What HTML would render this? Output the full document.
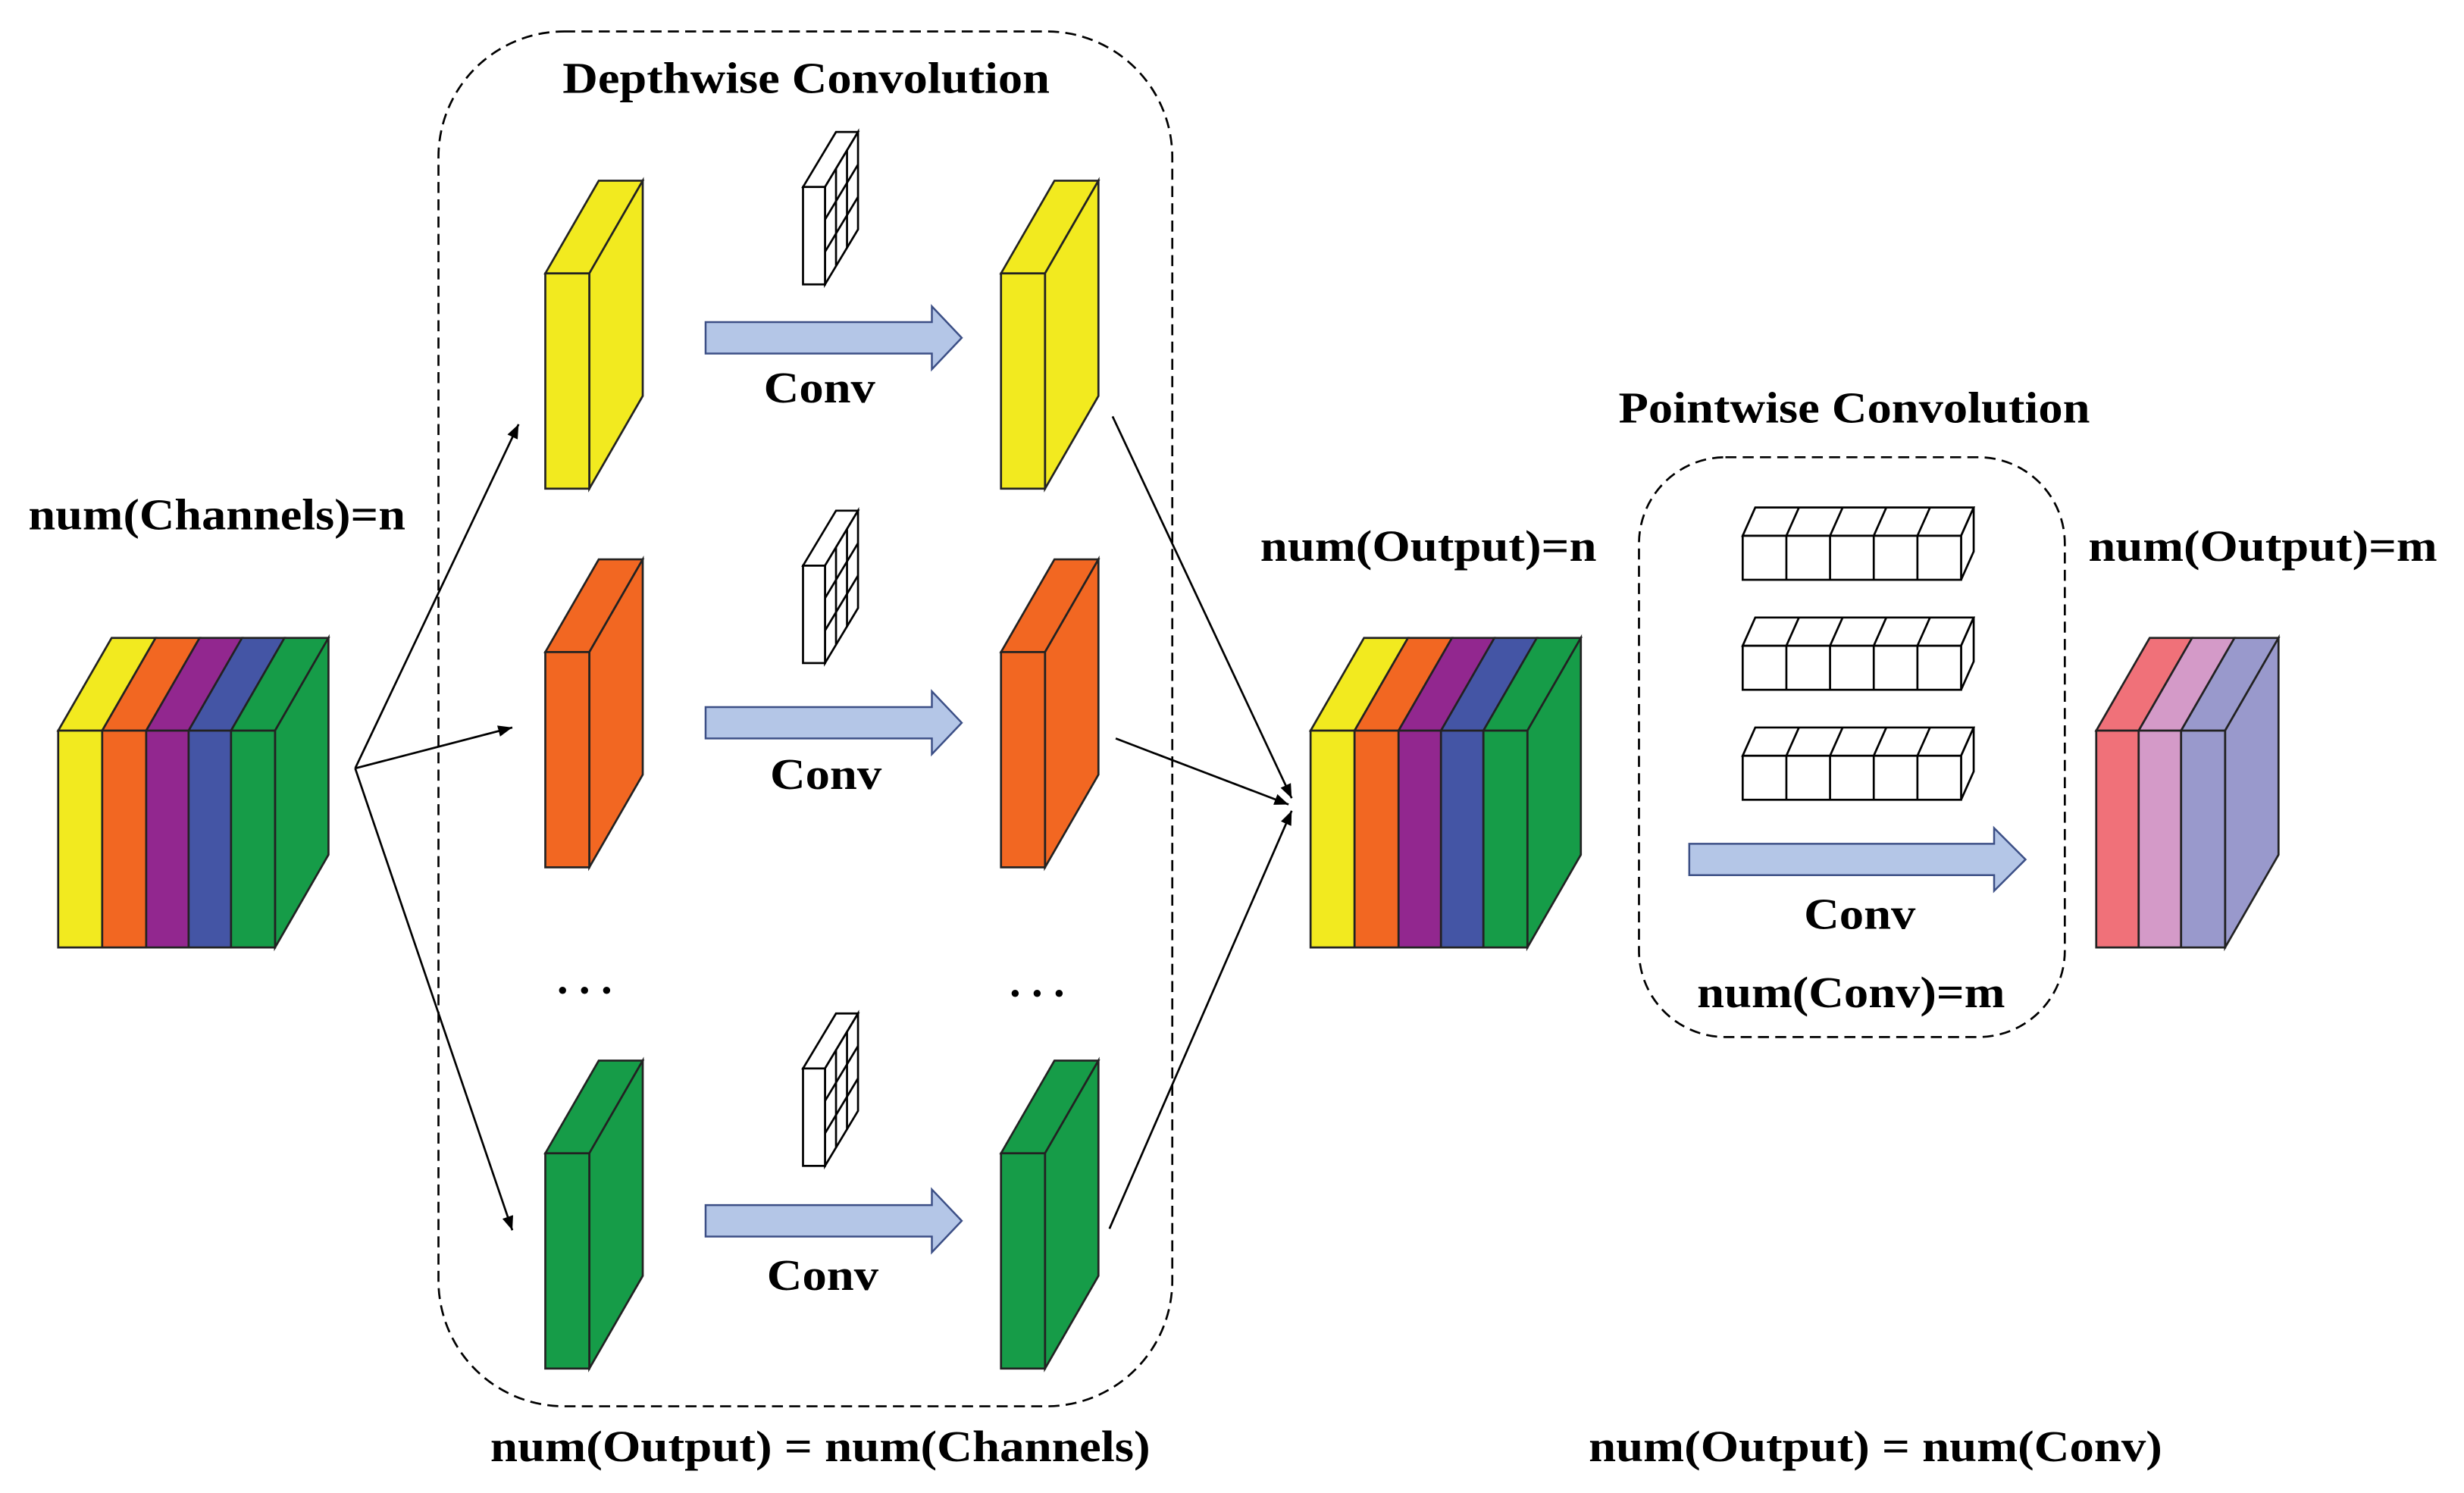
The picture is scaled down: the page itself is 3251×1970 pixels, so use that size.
<!DOCTYPE html>
<html><head><meta charset="utf-8"><style>
html,body{margin:0;padding:0;background:#fff;}
svg{display:block;}
text{font-family:"Liberation Serif",serif;font-weight:bold;fill:#000;}
</style></head><body>
<svg width="3251" height="1970" viewBox="0 0 1568 950.2" xmlns="http://www.w3.org/2000/svg">
<defs>
<marker id="ah" viewBox="0 0 10 10" refX="10" refY="5" markerWidth="9" markerHeight="9" markerUnits="userSpaceOnUse" orient="auto">
<path d="M0,1 L10,5 L0,9 z" fill="#000"/></marker>
<g id="kern" stroke="#000" stroke-width="1.3" fill="#fff">
<polygon points="0,35 14,35 35,0 21,0"/>
<polygon points="14,35 35,0 35,62 14,97"/>
<rect x="0" y="35" width="14" height="62"/>
<line x1="21" y1="23" x2="21" y2="85"/><line x1="28" y1="12" x2="28" y2="74"/>
<line x1="14" y1="55.7" x2="35" y2="20.7"/><line x1="14" y1="76.3" x2="35" y2="41.3"/>
</g>
<g id="bar" stroke="#3c4f86" stroke-width="1.2" fill="#b4c6e7">
<polygon points="0,-10 144,-10 144,-20 163,0 144,20 144,10 0,10"/>
</g>
<g id="pk" stroke="#000" stroke-width="1.3" fill="#fff">
<polygon points="0,18 8,0 147,0 139,18"/>
<polygon points="139,18 147,0 147,28 139,46"/>
<rect x="0" y="18" width="139" height="28"/>
<line x1="27.8" y1="18" x2="27.8" y2="46"/><line x1="55.6" y1="18" x2="55.6" y2="46"/><line x1="83.4" y1="18" x2="83.4" y2="46"/><line x1="111.2" y1="18" x2="111.2" y2="46"/>
<line x1="27.8" y1="18" x2="35.8" y2="0"/><line x1="55.6" y1="18" x2="63.6" y2="0"/><line x1="83.4" y1="18" x2="91.4" y2="0"/><line x1="111.2" y1="18" x2="119.2" y2="0"/>
</g>
</defs>

<rect x="279" y="20" width="467" height="875" rx="80" fill="none" stroke="#000" stroke-width="1.3" stroke-dasharray="7,4"/>
<rect x="1043" y="291" width="271" height="369" rx="55" fill="none" stroke="#000" stroke-width="1.3" stroke-dasharray="7,4"/>

<text x="358" y="59" font-size="28" textLength="310" lengthAdjust="spacingAndGlyphs">Depthwise Convolution</text>
<text x="1030" y="269" font-size="28" textLength="300" lengthAdjust="spacingAndGlyphs">Pointwise Convolution</text>

<g stroke="#222" stroke-width="1.3">
<g fill="#f2ea1f">
<polygon points="347,174 381,115 409,115 375,174"/><polygon points="375,174 409,115 409,252 375,311"/><rect x="347" y="174" width="28" height="137"/>
<polygon points="637,174 671,115 699,115 665,174"/><polygon points="665,174 699,115 699,252 665,311"/><rect x="637" y="174" width="28" height="137"/>
</g>
<g fill="#f26722">
<polygon points="347,415 381,356 409,356 375,415"/><polygon points="375,415 409,356 409,493 375,552"/><rect x="347" y="415" width="28" height="137"/>
<polygon points="637,415 671,356 699,356 665,415"/><polygon points="665,415 699,356 699,493 665,552"/><rect x="637" y="415" width="28" height="137"/>
</g>
<g fill="#169c48">
<polygon points="347,734 381,675 409,675 375,734"/><polygon points="375,734 409,675 409,812 375,871"/><rect x="347" y="734" width="28" height="137"/>
<polygon points="637,734 671,675 699,675 665,734"/><polygon points="665,734 699,675 699,812 665,871"/><rect x="637" y="734" width="28" height="137"/>
</g>
</g>

<use href="#kern" x="511" y="84"/>
<use href="#kern" x="511" y="325"/>
<use href="#kern" x="511" y="645"/>

<use href="#bar" x="449" y="215"/>
<use href="#bar" x="449" y="460"/>
<use href="#bar" x="449" y="777"/>
<text x="486" y="256" font-size="28" textLength="71" lengthAdjust="spacingAndGlyphs">Conv</text>
<text x="490" y="502" font-size="28" textLength="71" lengthAdjust="spacingAndGlyphs">Conv</text>
<text x="488" y="821" font-size="28" textLength="71" lengthAdjust="spacingAndGlyphs">Conv</text>
<text x="372" y="632" font-size="28" text-anchor="middle">. . .</text>
<text x="660" y="634" font-size="28" text-anchor="middle">. . .</text>

<g stroke="#222" stroke-width="1.3">
<polygon points="37,465 71,406 99,406 65,465" fill="#f2ea1f"/>
<polygon points="65,465 99,406 127,406 93,465" fill="#f26722"/>
<polygon points="93,465 127,406 154,406 120,465" fill="#92278f"/>
<polygon points="120,465 154,406 181,406 147,465" fill="#4455a5"/>
<polygon points="147,465 181,406 209,406 175,465" fill="#169c48"/>
<polygon points="175,465 209,406 209,544 175,603" fill="#169c48"/>
<rect x="37" y="465" width="28" height="138" fill="#f2ea1f"/>
<rect x="65" y="465" width="28" height="138" fill="#f26722"/>
<rect x="93" y="465" width="27" height="138" fill="#92278f"/>
<rect x="120" y="465" width="27" height="138" fill="#4455a5"/>
<rect x="147" y="465" width="28" height="138" fill="#169c48"/>
</g>
<text x="18" y="337" font-size="28" textLength="240" lengthAdjust="spacingAndGlyphs">num(Channels)=n</text>

<g stroke="#222" stroke-width="1.3">
<polygon points="834,465 868,406 896,406 862,465" fill="#f2ea1f"/>
<polygon points="862,465 896,406 924,406 890,465" fill="#f26722"/>
<polygon points="890,465 924,406 951,406 917,465" fill="#92278f"/>
<polygon points="917,465 951,406 978,406 944,465" fill="#4455a5"/>
<polygon points="944,465 978,406 1006,406 972,465" fill="#169c48"/>
<polygon points="972,465 1006,406 1006,544 972,603" fill="#169c48"/>
<rect x="834" y="465" width="28" height="138" fill="#f2ea1f"/>
<rect x="862" y="465" width="28" height="138" fill="#f26722"/>
<rect x="890" y="465" width="27" height="138" fill="#92278f"/>
<rect x="917" y="465" width="27" height="138" fill="#4455a5"/>
<rect x="944" y="465" width="28" height="138" fill="#169c48"/>
</g>
<text x="802" y="357" font-size="28" textLength="214" lengthAdjust="spacingAndGlyphs">num(Output)=n</text>

<g stroke="#222" stroke-width="1.3">
<polygon points="1334,465 1368,406 1395,406 1361,465" fill="#f07179"/>
<polygon points="1361,465 1395,406 1422,406 1388,465" fill="#d49ac8"/>
<polygon points="1388,465 1422,406 1450,406 1416,465" fill="#9999cc"/>
<polygon points="1416,465 1450,406 1450,544 1416,603" fill="#9999cc"/>
<rect x="1334" y="465" width="27" height="138" fill="#f07179"/>
<rect x="1361" y="465" width="27" height="138" fill="#d49ac8"/>
<rect x="1388" y="465" width="28" height="138" fill="#9999cc"/>
</g>
<text x="1329" y="357" font-size="28" textLength="222" lengthAdjust="spacingAndGlyphs">num(Output)=m</text>

<use href="#pk" x="1109" y="323"/>
<use href="#pk" x="1109" y="393"/>
<use href="#pk" x="1109" y="463"/>
<g stroke="#3c4f86" stroke-width="1.2" fill="#b4c6e7">
<polygon points="1075,537 1269,537 1269,527 1289,547 1269,567 1269,557 1075,557"/>
</g>
<text x="1148" y="591" font-size="28" textLength="71" lengthAdjust="spacingAndGlyphs">Conv</text>
<text x="1080" y="641" font-size="28" textLength="196" lengthAdjust="spacingAndGlyphs">num(Conv)=m</text>

<g stroke="#000" stroke-width="1.3" fill="none" marker-end="url(#ah)">
<line x1="226" y1="489" x2="330" y2="270"/>
<line x1="226" y1="489" x2="326" y2="463"/>
<line x1="226" y1="489" x2="326" y2="783"/>
<line x1="708" y1="265" x2="822" y2="508"/>
<line x1="710" y1="470" x2="820" y2="512"/>
<line x1="706" y1="782" x2="822" y2="516"/>
</g>

<text x="312" y="930" font-size="28" textLength="420" lengthAdjust="spacingAndGlyphs">num(Output) = num(Channels)</text>
<text x="1011" y="930" font-size="28" textLength="365" lengthAdjust="spacingAndGlyphs">num(Output) = num(Conv)</text>
</svg>
</body></html>
